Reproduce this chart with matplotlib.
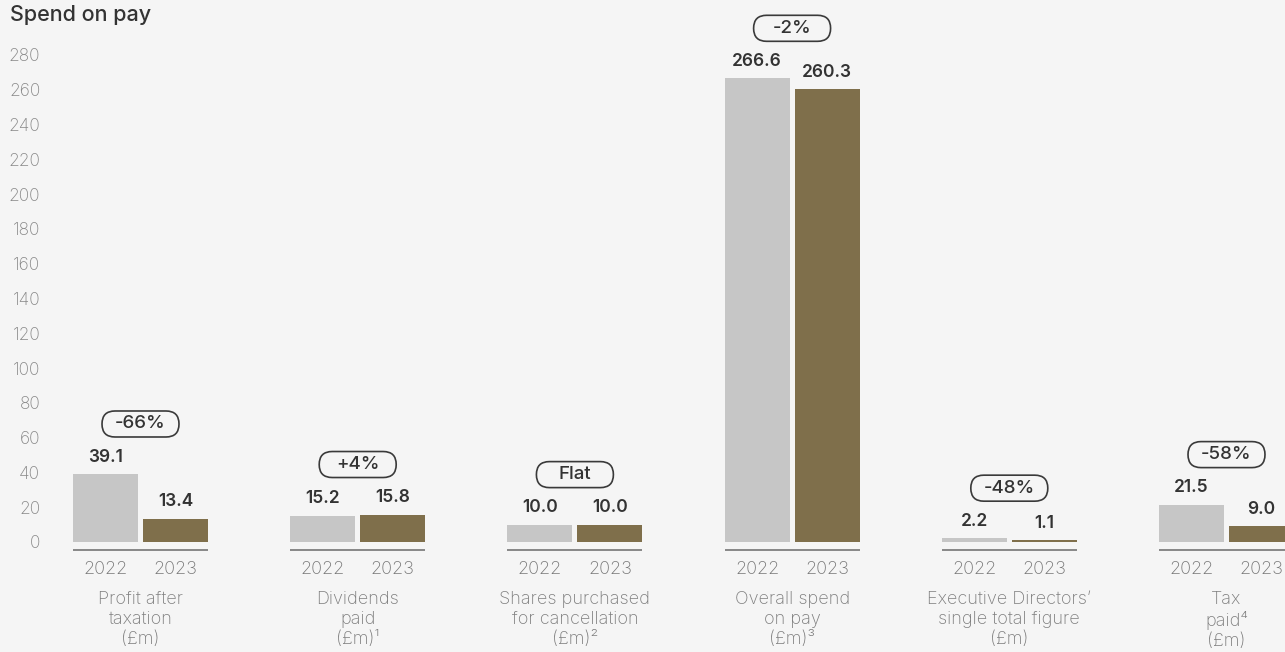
import matplotlib
matplotlib.use("Agg")
import matplotlib.pyplot as plt
import matplotlib.transforms as mtransforms
from matplotlib.patches import FancyBboxPatch
import numpy as np

plt.rcParams['font.family'] = ['Inter', 'DejaVu Sans']

categories = ["Profit after\ntaxation\n(£m)", "Dividends\npaid\n(£m)¹",
              "Shares purchased\nfor cancellation\n(£m)²", "Overall spend\non pay\n(£m)³",
              "Executive Directors’\nsingle total figure\n(£m)", "Tax\npaid⁴\n(£m)"]
years = ["2022", "2023"]
values_2022 = [39.1, 15.2, 10.0, 266.6, 2.2, 21.5]
values_2023 = [13.4, 15.8, 10.0, 260.3, 1.1, 9.0]
changes = ["-66%", "+4%", "Flat", "-2%", "-48%", "-58%"]
yticks = list(range(0, 281, 20))
title = "Spend on pay"

BG = "#f5f5f5"
C22 = "#c6c6c6"
C23 = "#7f6f4b"
DARK = "#333333"
GRAY = "#7e7e7e"

W, H = 1285, 652
fig = plt.figure(figsize=(W/100, H/100), dpi=100, facecolor=BG)
left_px = 50
ax = fig.add_axes([left_px/W, 0, 1-left_px/W, 1])
ax.set_facecolor(BG)

spacing = 217.2
c0 = 140.5
ppu = 487/280.0
zero_px = 542
ax.set_xlim((left_px - c0)/spacing, (W - c0)/spacing)
ax.set_ylim(-(H - zero_px)/ppu, zero_px/ppu)

x = np.arange(len(categories))
bw = 65/spacing
off = 35/spacing
ax.bar(x - off, values_2022, width=bw, color=C22)
ax.bar(x + off, values_2023, width=bw, color=C23)

for s in ax.spines.values():
    s.set_visible(False)
ax.set_xticks([])
ax.set_yticks(yticks)
ax.set_yticklabels([str(t) for t in yticks], fontsize=12.5, color="#878787", fontweight='light')
ax.tick_params(axis='y', length=0, pad=7)

def py(px_from_zero):
    return -px_from_zero/ppu

for i in range(len(categories)):
    a, b = values_2022[i], values_2023[i]
    ax.annotate(f"{a:.1f}", (x[i]-off, a), xytext=(0, 6), textcoords='offset points',
                ha='center', va='bottom', fontsize=12.5, color=DARK, fontweight='semibold')
    ax.annotate(f"{b:.1f}", (x[i]+off, b), xytext=(0, 6), textcoords='offset points',
                ha='center', va='bottom', fontsize=12.5, color=DARK, fontweight='semibold')
    ax.plot([x[i]-off-bw/2, x[i]+off+bw/2], [py(8)]*2, color="#6a6a6a", lw=1.1,
            solid_capstyle='butt', clip_on=False)
    ax.text(x[i]-off, py(27), years[0], ha='center', va='center', fontsize=13,
            color="#777777", fontweight='light')
    ax.text(x[i]+off, py(27), years[1], ha='center', va='center', fontsize=13,
            color="#777777", fontweight='light')
    ax.text(x[i], py(49), categories[i], ha='center', va='top', fontsize=13, color=GRAY,
            linespacing=1.22, fontweight='light')
    top = max(a, b)
    cy = top + 50/ppu
    trans = fig.dpi_scale_trans + mtransforms.ScaledTranslation(x[i], cy, ax.transData)
    pw, ph = 0.77, 0.26
    patch = FancyBboxPatch((-pw/2, -ph/2), pw, ph,
                           boxstyle=f"round,pad=0,rounding_size={ph/2}",
                           transform=trans, facecolor=BG, edgecolor="#3a3a3a", lw=1.2,
                           clip_on=False)
    ax.add_patch(patch)
    ax.text(x[i], cy, changes[i], ha='center', va='center', fontsize=13.5, color=DARK,
            fontweight='medium')

fig.text(10/W, 1-15/H, title, ha='left', va='center', fontsize=15.5, color="#333333",
         fontweight='medium')

fig.savefig("out.png", dpi=100, facecolor=BG)
